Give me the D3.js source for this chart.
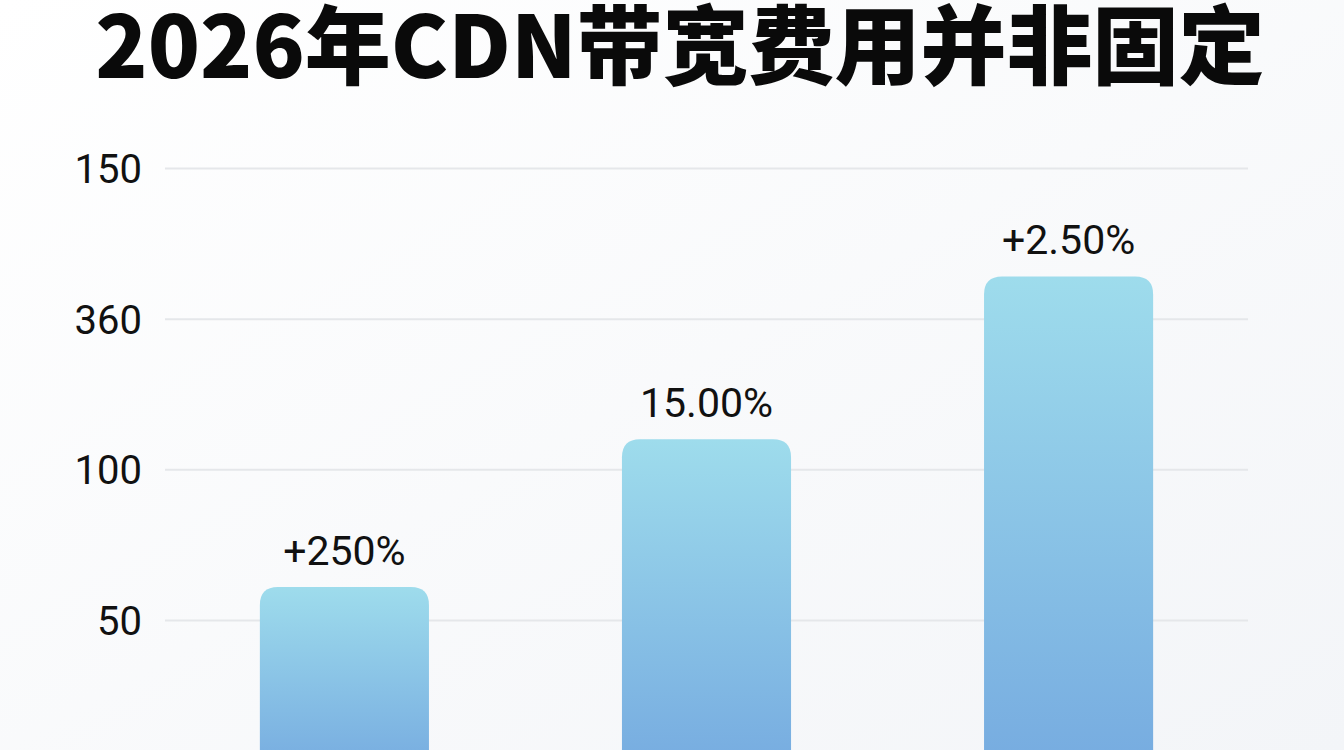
<!DOCTYPE html>
<html><head><meta charset="utf-8">
<script src="https://cdn.jsdelivr.net/npm/d3@7/dist/d3.min.js"></script>
<style>html,body{margin:0;padding:0;overflow:hidden;background:#fbfcfd}</style>
</head><body>
<svg id="c" width="1344" height="750"></svg>
<script>
const title = "2026年CDN带宽费用并非固定";
const categories = ["A", "B", "C"];
const values = [61, 110, 164];
const valueLabels = ["+250%", "15.00%", "+2.50%"];
const tickValues = [200, 150, 100, 50];
const tickLabels = ["150", "360", "100", "50"];

const W = 1344, H = 750;
const svg = d3.select("#c");
const defs = svg.append("defs");

const bg = defs.append("linearGradient").attr("id","bg").attr("x1","0").attr("y1","0").attr("x2","1").attr("y2","1");
bg.append("stop").attr("offset","0").attr("stop-color","#ffffff");
bg.append("stop").attr("offset","1").attr("stop-color","#f3f5f8");
svg.append("rect").attr("width",W).attr("height",H).attr("fill","url(#bg)");

const bar = defs.append("linearGradient").attr("id","bar").attr("x1","0").attr("y1","0").attr("x2","0").attr("y2","1");
bar.append("stop").attr("offset","0").attr("stop-color","#9edcec");
bar.append("stop").attr("offset","1").attr("stop-color","#76abe0");

const left = 165, right = 1248;
const x = d3.scaleBand().domain(categories).range([left, right]).paddingInner(0.533).paddingOuter(0.262);
const y = d3.scaleLinear().domain([0, 200]).range([770.7, 168]);

const fontNum = "Roboto, 'Noto Sans', sans-serif";

// grid + ticks
const axis = d3.axisLeft(y).tickValues(tickValues).tickSize(-(right-left)).tickPadding(23)
  .tickFormat((d,i) => tickLabels[i]);
const g = svg.append("g").attr("transform",`translate(${left},0)`).call(axis);
g.select(".domain").remove();
g.selectAll(".tick line").attr("stroke","#e5e7ea").attr("stroke-width",2);
g.selectAll(".tick text").attr("fill","#111").style("font-family",fontNum)
  .style("font-size","40px").attr("dy","0.36em");

// bars
const r = 18;
svg.append("g").selectAll("path").data(values).join("path")
  .attr("fill","url(#bar)")
  .attr("d",(d,i)=>{
    const x0 = x(categories[i]), w = x.bandwidth(), y0 = y(d), y1 = y(0);
    return `M${x0},${y1}V${y0+r}Q${x0},${y0} ${x0+r},${y0}H${x0+w-r}Q${x0+w},${y0} ${x0+w},${y0+r}V${y1}Z`;
  });

// labels
svg.append("g").selectAll("text").data(values).join("text")
  .attr("x",(d,i)=>x(categories[i])+x.bandwidth()/2)
  .attr("y",d=>y(d)-22)
  .attr("text-anchor","middle")
  .attr("fill","#111")
  .style("font-family",fontNum)
  .style("font-size","41px")
  .text((d,i)=>valueLabels[i]);

// title
svg.append("text").attr("x",680).attr("y",78).attr("text-anchor","middle")
  .attr("fill","#0a0a0a")
  .style("font-family","'Noto Sans CJK SC', sans-serif").style("font-weight",900)
  .style("font-size","86px")
  .text(title);
</script>
</body></html>
